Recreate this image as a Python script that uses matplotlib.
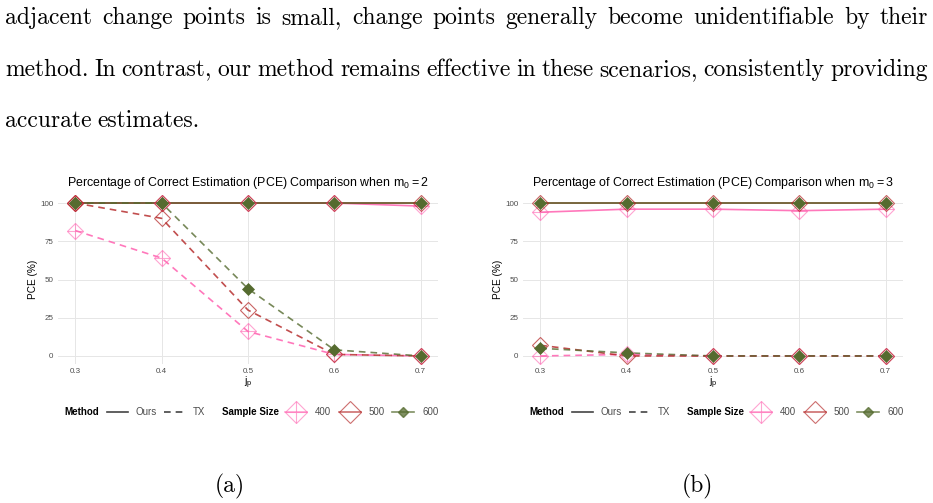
import matplotlib
matplotlib.use("Agg")
import matplotlib.pyplot as plt
from matplotlib.lines import Line2D

# ---------------- data ----------------
jp = [0.3, 0.4, 0.5, 0.6, 0.7]
jp_labels = ["0.3", "0.4", "0.5", "0.6", "0.7"]
pce_ticks = [0, 25, 50, 75, 100]
sample_sizes = ["400", "500", "600"]
methods = ["Ours", "TX"]

# panel (a): m0 = 2
a_ours_400 = [100, 100, 100, 100, 98]
a_ours_500 = [100, 100, 100, 100, 100]
a_ours_600 = [100, 100, 100, 100, 100]
a_tx_400 = [82, 64, 16, 1, 0]
a_tx_500 = [100, 90, 30, 1, 0]
a_tx_600 = [100, 100, 44, 4, 0]

# panel (b): m0 = 3
b_ours_400 = [94, 96, 96, 95, 96]
b_ours_500 = [100, 100, 100, 100, 100]
b_ours_600 = [100, 100, 100, 100, 100]
b_tx_400 = [0, 1, 0, 0, 0]
b_tx_500 = [7, 0, 0, 0, 0]
b_tx_600 = [5, 2, 0, 0, 0]

panel_titles = [r"Percentage of Correct Estimation (PCE) Comparison when $\mathregular{m_0 = 2}$",
                r"Percentage of Correct Estimation (PCE) Comparison when $\mathregular{m_0 = 3}$"]
captions = ["(a)", "(b)"]
paragraph = ["adjacent change points is small, change points generally become unidentifiable by their",
             "method. In contrast, our method remains effective in these scenarios, consistently providing",
             "accurate estimates."]

# ---------------- style ----------------
plt.rcParams['font.family'] = ['Liberation Sans', 'DejaVu Sans']
W, H = 933, 503
fig = plt.figure(figsize=(W / 100, H / 100), dpi=100)
renderer = fig.canvas.get_renderer()

colors = {"400": "#FF69B4", "500": "#B22222", "600": "#556B2F"}
line_alpha = {"400": 0.9, "500": 0.8, "600": 0.8}


def fx(px):
    return px / W


def fy(py):
    return 1 - py / H


# ---------------- paragraph text ----------------
serif = 'cmr10'


def words_width(line, size):
    ps = [fig.text(0, 0, w, fontsize=size, family=serif) for w in line.split()]
    tot = sum(p.get_window_extent(renderer).width for p in ps)
    for p in ps:
        p.remove()
    return tot


n0 = len(paragraph[0].split()) - 1
n1 = len(paragraph[1].split()) - 1
psize = min(10 * (923 - 4 * n0) / words_width(paragraph[0], 10),
            10 * (923 - 5.5 * n1) / words_width(paragraph[1], 10))

baselines = [24, 76, 127]
x_left, x_right = 5, 928
for li, line in enumerate(paragraph):
    words = line.split()
    objs = [fig.text(0, fy(baselines[li]), w, fontsize=psize, family=serif,
                     va='baseline', ha='left') for w in words]
    widths = [o.get_window_extent(renderer).width for o in objs]
    if li < 2:
        gap = (x_right - x_left - sum(widths)) / (len(words) - 1)
    else:
        gap = 5.5
    x = x_left
    for o, wd in zip(objs, widths):
        o.set_x(fx(x))
        x += wd + gap

# ---------------- panels ----------------
panels = [
    {"ours": [a_ours_400, a_ours_500, a_ours_600], "tx": [a_tx_400, a_tx_500, a_tx_600]},
    {"ours": [b_ours_400, b_ours_500, b_ours_600], "tx": [b_tx_400, b_tx_500, b_tx_600]},
]

ax_left, ax_right, ax_top, ax_bot = 58, 438, 195.4, 363.6
tick_color = "#4D4D4D"

for pi, panel in enumerate(panels):
    dx = 465 * pi
    ax = fig.add_axes([fx(ax_left + dx), fy(ax_bot), fx(ax_right - ax_left), (ax_bot - ax_top) / H])
    ax.set_xlim(0.28, 0.72)
    ax.set_ylim(-5, 105)
    for s in ax.spines.values():
        s.set_visible(False)
    ax.set_xticks(jp)
    ax.set_xticklabels(jp_labels)
    ax.set_yticks(pce_ticks)
    ax.tick_params(length=0, labelsize=5.8, labelcolor=tick_color)
    ax.tick_params(axis='x', pad=3.0)
    ax.tick_params(axis='y', pad=3.4)
    ax.grid(True, color="#E6E6E6", lw=0.7)
    ax.set_axisbelow(True)

    # lines
    for si, s in enumerate(sample_sizes):
        c = colors[s]
        ax.plot(jp, panel["ours"][si], color=c, lw=1.2, alpha=line_alpha[s], ls='-', zorder=2)
        ax.plot(jp, panel["tx"][si], color=c, lw=1.2, alpha=line_alpha[s], dashes=(4, 3), zorder=2)
    # points
    for si, s in enumerate(sample_sizes):
        c = colors[s]
        for vals in (panel["ours"][si], panel["tx"][si]):
            if s == "400":
                ax.plot(jp, vals, ls='none', marker='D', ms=8.2, mfc='none', mec=c, mew=0.8,
                        alpha=0.6, zorder=3)
                ax.plot(jp, vals, ls='none', marker='+', ms=11.6, mec=c, mew=0.8,
                        alpha=0.6, zorder=3)
            elif s == "500":
                ax.plot(jp, vals, ls='none', marker='D', ms=8.2, mfc='none', mec=c, mew=0.8,
                        alpha=0.7, zorder=4)
            else:
                ax.plot(jp, vals, ls='none', marker='D', ms=5.8, mfc=c, mec=c, mew=0.5,
                        zorder=5)

    ax.set_title(panel_titles[pi], fontsize=8.95, pad=6.5, color='black')
    ax.set_xlabel(r"$\mathregular{j_p}$", fontsize=7.5, va='center', color='black')
    ax.xaxis.set_label_coords(0.5, (ax_bot - 383) / (ax_bot - ax_top))
    ax.set_ylabel("PCE (%)", fontsize=7.2, va='center', color='black')
    ax.yaxis.set_label_coords((33 - ax_left) / (ax_right - ax_left), 0.5)

    # legend
    ly = fy(412)
    fig.text(fx(64 + dx), ly, "Method", fontsize=7, fontweight='bold', va='center', ha='left')
    fig.text(fx(222 + dx), ly, "Sample Size", fontsize=7, fontweight='bold', va='center', ha='left')
    mh = [Line2D([], [], color='#444444', lw=1.2, ls='-'),
          Line2D([], [], color='#444444', lw=1.2, dashes=(4, 3))]
    leg1 = ax.legend(mh, methods, loc='center left', bbox_to_anchor=(fx(107 + dx), ly),
                     bbox_transform=fig.transFigure, ncol=2, frameon=False, fontsize=7,
                     handlelength=2.2, handletextpad=0.72, columnspacing=0.75,
                     borderpad=0, borderaxespad=0, labelcolor=tick_color)
    ax.add_artist(leg1)
    sh = [
        (Line2D([], [], color=colors["400"], lw=1.2, alpha=0.6, marker='D', ms=11, mfc='none',
                mec=colors["400"], mew=0.8),
         Line2D([], [], ls='none', marker='+', ms=15.5, color=colors["400"], mew=0.8, alpha=0.6)),
        Line2D([], [], color=colors["500"], lw=1.2, alpha=0.65, marker='D', ms=11, mfc='none',
               mec=colors["500"], mew=0.8),
        Line2D([], [], color=colors["600"], lw=1.2, alpha=0.75, marker='D', ms=5.5,
               mfc=colors["600"], mec=colors["600"]),
    ]
    ax.legend(sh, sample_sizes, loc='center left', bbox_to_anchor=(fx(285 + dx), ly),
              bbox_transform=fig.transFigure, ncol=3, frameon=False, fontsize=7,
              handlelength=2.3, handletextpad=0.8, columnspacing=0.75,
              borderpad=0, borderaxespad=0, labelcolor=tick_color)

    fig.text(fx([230, 697][pi]), fy(486), captions[pi], fontsize=psize, family=serif,
             ha='center', va='center')

fig.savefig("out.png", dpi=100)
